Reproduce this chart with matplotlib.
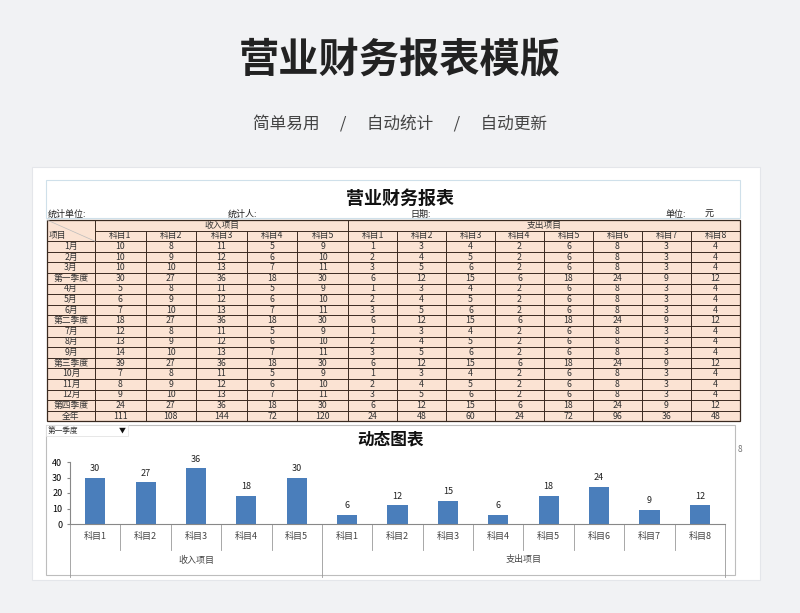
import matplotlib
matplotlib.use("Agg")
import matplotlib.pyplot as plt
from matplotlib.patches import Rectangle

plt.rcParams["font.family"] = ["Noto Sans CJK SC", "DejaVu Sans"]

title = "营业财务报表模版"
subtitle = "简单易用　 /　 自动统计　 /　 自动更新"
row_labels = ["1月", "2月", "3月", "第一季度", "4月", "5月", "6月", "第二季度",
              "7月", "8月", "9月", "第三季度", "10月", "11月", "12月", "第四季度", "全年"]
income_cols = ["科目1", "科目2", "科目3", "科目4", "科目5"]
expense_cols = ["科目1", "科目2", "科目3", "科目4", "科目5", "科目6", "科目7", "科目8"]
income = [
    [10, 8, 11, 5, 9], [10, 9, 12, 6, 10], [10, 10, 13, 7, 11], [30, 27, 36, 18, 30],
    [5, 8, 11, 5, 9], [6, 9, 12, 6, 10], [7, 10, 13, 7, 11], [18, 27, 36, 18, 30],
    [12, 8, 11, 5, 9], [13, 9, 12, 6, 10], [14, 10, 13, 7, 11], [39, 27, 36, 18, 30],
    [7, 8, 11, 5, 9], [8, 9, 12, 6, 10], [9, 10, 13, 7, 11], [24, 27, 36, 18, 30],
    [111, 108, 144, 72, 120]]
exp_m1 = [1, 3, 4, 2, 6, 8, 3, 4]
exp_m2 = [2, 4, 5, 2, 6, 8, 3, 4]
exp_m3 = [3, 5, 6, 2, 6, 8, 3, 4]
exp_q = [6, 12, 15, 6, 18, 24, 9, 12]
exp_year = [24, 48, 60, 24, 72, 96, 36, 48]
expense = [exp_m1, exp_m2, exp_m3, exp_q] * 4 + [exp_year]
chart_income = [30, 27, 36, 18, 30]
chart_expense = [6, 12, 15, 6, 18, 24, 9, 12]
yticks = [0, 10, 20, 30, 40]

W, H = 800, 613
fig = plt.figure(figsize=(8, 6.13), dpi=100)
fig.patch.set_facecolor("#f1f2f4")
ax0 = fig.add_axes([0, 0, 1, 1])
ax0.set_xlim(0, W); ax0.set_ylim(H, 0); ax0.axis("off")

ax0.text(400, 60, title, ha="center", va="center", fontsize=29, fontweight="bold", color="#222222")
ax0.text(400, 125, subtitle, ha="center", va="center", fontsize=12, color="#444444")
ax0.add_patch(Rectangle((32, 167), 728, 413, facecolor="white", edgecolor="#e4e6ea", lw=0.8))
ax0.add_patch(Rectangle((46, 180), 694, 38, facecolor="white", edgecolor="#cfe0ea", lw=0.8))

ax0.text(400, 198, "营业财务报表", ha="center", va="center", fontsize=13, fontweight="bold", color="#111")
for x, s in [(48, "统计单位:"), (228, "统计人:"), (410, "日期:"), (665, "单位:"), (705, "元")]:
    ax0.text(x, 214, s, ha="left", va="center", fontsize=6.5, color="#222")

# table
x0, xa, xb, x1 = 47, 95, 348, 740
top, rh = 220, 10.6
ncell = "#fbe3d3"; lc = "#3a2a20"
nrows = 2 + len(row_labels)
bot = top + nrows * rh
ax0.add_patch(Rectangle((x0, top), x1 - x0, bot - top, facecolor=ncell, edgecolor=lc, lw=0.9))
iw = (xb - xa) / len(income_cols); ew = (x1 - xb) / len(expense_cols)
for i in range(1, nrows):
    xs = x0 if i >= 2 else xa
    ax0.plot([xs, x1], [top + i * rh] * 2, color=lc, lw=0.7)
ax0.plot([xa, xa], [top, bot], color=lc, lw=0.7)
ax0.plot([xb, xb], [top, bot], color=lc, lw=0.7)
for j in range(1, len(income_cols)):
    ax0.plot([xa + j * iw] * 2, [top + rh, bot], color=lc, lw=0.7)
for j in range(1, len(expense_cols)):
    ax0.plot([xb + j * ew] * 2, [top + rh, bot], color=lc, lw=0.7)
ax0.plot([x0, xa], [top, top + 2 * rh], color="#bbbbbb", lw=0.5)
fs = 6.3; tc = "#333"
ax0.text((xa + xb) / 2, top + rh / 2, "收入项目", ha="center", va="center", fontsize=fs, color=tc)
ax0.text((xb + x1) / 2, top + rh / 2, "支出项目", ha="center", va="center", fontsize=fs, color=tc)
ax0.text(x0 + 2, top + 1.5 * rh, "项目", ha="left", va="center", fontsize=fs, color=tc)
for j, c in enumerate(income_cols):
    ax0.text(xa + (j + .5) * iw, top + 1.5 * rh, c, ha="center", va="center", fontsize=fs, color=tc)
for j, c in enumerate(expense_cols):
    ax0.text(xb + (j + .5) * ew, top + 1.5 * rh, c, ha="center", va="center", fontsize=fs, color=tc)
for i, lab in enumerate(row_labels):
    y = top + (i + 2.5) * rh
    ax0.text((x0 + xa) / 2, y, lab, ha="center", va="center", fontsize=fs, color=tc)
    for j, v in enumerate(income[i]):
        ax0.text(xa + (j + .5) * iw, y, str(v), ha="center", va="center", fontsize=fs, color=tc)
    for j, v in enumerate(expense[i]):
        ax0.text(xb + (j + .5) * ew, y, str(v), ha="center", va="center", fontsize=fs, color=tc)

# chart frame
ax0.add_patch(Rectangle((46, 425), 689, 150, facecolor="white", edgecolor="#bdbdbd", lw=0.8))
ax0.add_patch(Rectangle((46, 425), 82, 11, facecolor="white", edgecolor="#dddddd", lw=0.5))
ax0.text(48, 430.5, "第一季度", ha="left", va="center", fontsize=5.5, color="#333")
ax0.text(122, 430.5, "▼", ha="center", va="center", fontsize=5, color="#111")
ax0.text(738, 449, "8", ha="left", va="center", fontsize=6, color="#777")
ax0.text(390, 440, "动态图表", ha="center", va="center", fontsize=12, fontweight="bold", color="#111")

ax = fig.add_axes([70 / W, 1 - 524 / H, (725 - 70) / W, (524 - 462) / H])
ax.patch.set_alpha(0)
vals = chart_income + chart_expense
labels = income_cols + expense_cols
xs = list(range(len(vals)))
bars = ax.bar(xs, vals, width=0.4, color="#4a7ebb")
for b, v in zip(bars, vals):
    ax.text(b.get_x() + b.get_width() / 2, v + 3, str(v), ha="center", va="bottom", fontsize=6.5, color="#222")
ax.set_xlim(-0.5, len(vals) - 0.5)
ax.set_ylim(0, 40)
ax.set_yticks(yticks)
ax.tick_params(axis="y", labelsize=6.5, length=2, color="#888")
ax.set_xticks([])
for s in ["top", "right"]:
    ax.spines[s].set_visible(False)
ax.spines["left"].set_color("#888"); ax.spines["bottom"].set_color("#888")
tr = ax.get_xaxis_transform()
for i, l in enumerate(labels):
    ax.text(i, -0.2, l, transform=tr, ha="center", va="center", fontsize=6.5, color="#444")
for k in range(len(vals) + 1):
    xk = k - 0.5
    ybot = -0.85 if k in (0, len(income_cols), len(vals)) else -0.42
    ax.plot([xk, xk], [0, ybot], transform=tr, color="#999", lw=0.6, clip_on=False)
ax.text((len(income_cols) - 1) / 2, -0.58, "收入项目", transform=tr, ha="center", va="center", fontsize=6.5, color="#444")
ax.text(len(income_cols) + (len(expense_cols) - 1) / 2, -0.58, "支出项目", transform=tr, ha="center", va="center", fontsize=6.5, color="#444")

fig.savefig("out.png", dpi=100, facecolor=fig.get_facecolor())
